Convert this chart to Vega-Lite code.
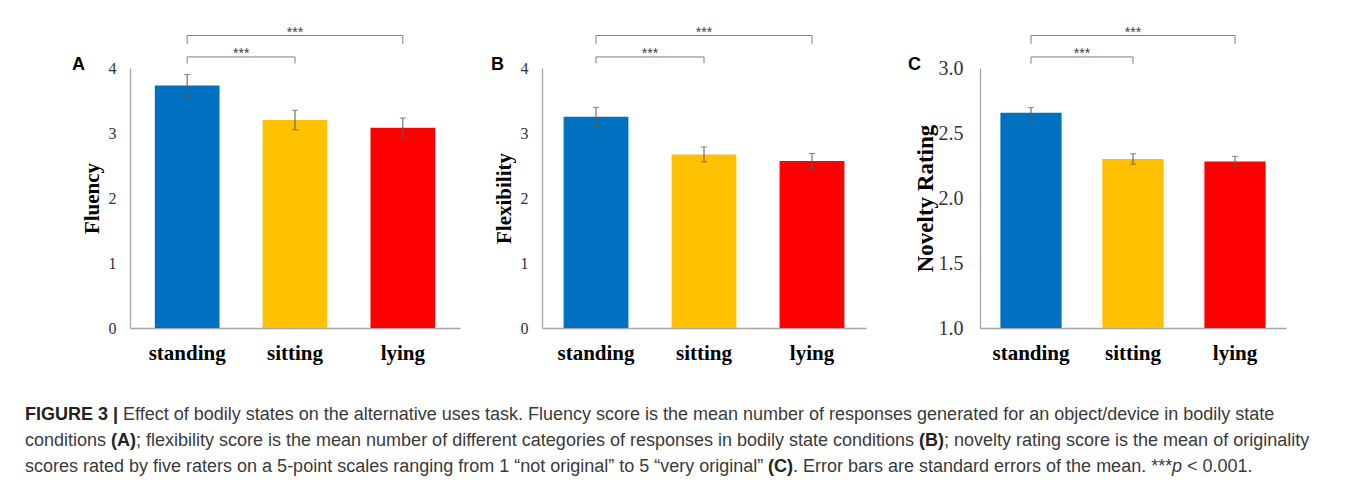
{
  "$schema": "https://vega.github.io/schema/vega-lite/v6.json",
  "background": "white",
  "padding": {"left": 25, "top": 25, "right": 5, "bottom": 0},
  "config": {"view": {"stroke": null}, "axis": {"grid": false}},
  "spacing": 43,
  "vconcat": [
    {
      "spacing": 42,
      "hconcat": [
        {
          "spacing": 31,
          "hconcat": [
            {
              "width": 330, "height": 260,
              "data": {"values": [
                {"condition": "standing", "mean": 3.73, "se": 0.17},
                {"condition": "sitting", "mean": 3.20, "se": 0.15},
                {"condition": "lying", "mean": 3.08, "se": 0.15}
              ]},
              "encoding": {
                "x": {"field": "condition", "type": "nominal", "sort": null, "title": null,
                  "scale": {"domain": ["standing", "sitting", "lying"], "paddingInner": 0.4, "paddingOuter": 0.23},
                  "axis": {"title": null, "labelAngle": 0, "ticks": false, "domainColor": "#a6a6a6", "domainWidth": 1.3, "labelFont": "Liberation Serif", "labelFontSize": 21, "labelFontWeight": "bold", "labelColor": "#000000", "labelPadding": 14}}
              },
              "layer": [
                {"mark": {"type": "bar"},
                 "encoding": {
                   "y": {"field": "mean", "type": "quantitative", "title": "Fluency", "scale": {"domain": [0, 4], "nice": false},
                     "axis": {"title": "Fluency", "values": [0, 1, 2, 3, 4], "format": "d", "ticks": false, "domainColor": "#a6a6a6", "domainWidth": 1.3, "labelFont": "Liberation Serif", "labelFontSize": 16, "labelColor": "#333333", "labelPadding": 14, "titleFont": "Liberation Serif", "titleFontSize": 21, "titleFontWeight": "bold", "titleColor": "#000000", "titlePadding": 6}},
                   "color": {"field": "condition", "type": "nominal", "scale": {"domain": ["standing", "sitting", "lying"], "range": ["#0070C0", "#FFC000", "#FF0000"]}, "legend": null}
                 }},
                {"mark": {"type": "errorbar", "ticks": {"size": 6}, "color": "#595959", "thickness": 1},
                 "encoding": {"y": {"field": "mean", "type": "quantitative", "title": "Fluency"}, "yError": {"field": "se"}}},
                {"data": {"values": [
                  {"from": "standing", "to": "sitting", "y": 4.17, "yEnd": 4.07},
                  {"from": "standing", "to": "lying", "y": 4.5, "yEnd": 4.37}
                ]},
                 "layer": [
                   {"mark": {"type": "rule", "color": "#7f7f7f", "strokeWidth": 1},
                    "encoding": {"x": {"field": "from", "type": "nominal", "title": null, "scale": {"domain": ["standing", "sitting", "lying"]}}, "x2": {"field": "to"}, "y": {"field": "y", "type": "quantitative", "title": "Fluency"}}},
                   {"mark": {"type": "rule", "color": "#7f7f7f", "strokeWidth": 1},
                    "encoding": {"x": {"field": "from", "type": "nominal", "title": null, "scale": {"domain": ["standing", "sitting", "lying"]}}, "y": {"field": "y", "type": "quantitative", "title": "Fluency"}, "y2": {"field": "yEnd"}}},
                   {"mark": {"type": "rule", "color": "#7f7f7f", "strokeWidth": 1},
                    "encoding": {"x": {"field": "to", "type": "nominal", "title": null, "scale": {"domain": ["standing", "sitting", "lying"]}}, "y": {"field": "y", "type": "quantitative", "title": "Fluency"}, "y2": {"field": "yEnd"}}}
                 ]},
                {"data": {"values": [{"label": "***"}]},
                 "mark": {"type": "text", "fontSize": 14, "color": "#404040", "baseline": "alphabetic", "dy": 1},
                 "encoding": {"x": {"datum": "sitting", "title": null}, "y": {"datum": 4.5, "title": "Fluency"}, "text": {"field": "label"}}},
                {"data": {"values": [{"label": "***"}]},
                 "mark": {"type": "text", "fontSize": 14, "color": "#404040", "baseline": "alphabetic", "dy": 1, "dx": 54},
                 "encoding": {"x": {"datum": "standing", "title": null}, "y": {"datum": 4.17, "title": "Fluency"}, "text": {"field": "label"}}},
                {"data": {"values": [{"panel": "A"}]},
                 "mark": {"type": "text", "align": "left", "baseline": "alphabetic", "dx": -58, "dy": 2, "fontSize": 18, "fontWeight": "bold", "font": "Liberation Sans", "color": "#000000"},
                 "encoding": {"x": {"value": 0}, "y": {"datum": 4, "title": "Fluency"}, "text": {"field": "panel"}}}
              ]
            },
            {
              "width": 324, "height": 260,
              "data": {"values": [
                {"condition": "standing", "mean": 3.25, "se": 0.145},
                {"condition": "sitting", "mean": 2.67, "se": 0.115},
                {"condition": "lying", "mean": 2.57, "se": 0.115}
              ]},
              "encoding": {
                "x": {"field": "condition", "type": "nominal", "sort": null, "title": null,
                  "scale": {"domain": ["standing", "sitting", "lying"], "paddingInner": 0.4, "paddingOuter": 0.2},
                  "axis": {"title": null, "labelAngle": 0, "ticks": false, "domainColor": "#a6a6a6", "domainWidth": 1.3, "labelFont": "Liberation Serif", "labelFontSize": 21, "labelFontWeight": "bold", "labelColor": "#000000", "labelPadding": 14}}
              },
              "layer": [
                {"mark": {"type": "bar"},
                 "encoding": {
                   "y": {"field": "mean", "type": "quantitative", "title": "Flexibility", "scale": {"domain": [0, 4], "nice": false},
                     "axis": {"title": "Flexibility", "values": [0, 1, 2, 3, 4], "format": "d", "ticks": false, "domainColor": "#a6a6a6", "domainWidth": 1.3, "labelFont": "Liberation Serif", "labelFontSize": 16, "labelColor": "#333333", "labelPadding": 14, "titleFont": "Liberation Serif", "titleFontSize": 21, "titleFontWeight": "bold", "titleColor": "#000000", "titlePadding": 6}},
                   "color": {"field": "condition", "type": "nominal", "scale": {"domain": ["standing", "sitting", "lying"], "range": ["#0070C0", "#FFC000", "#FF0000"]}, "legend": null}
                 }},
                {"mark": {"type": "errorbar", "ticks": {"size": 6}, "color": "#595959", "thickness": 1},
                 "encoding": {"y": {"field": "mean", "type": "quantitative", "title": "Flexibility"}, "yError": {"field": "se"}}},
                {"data": {"values": [
                  {"from": "standing", "to": "sitting", "y": 4.17, "yEnd": 4.07},
                  {"from": "standing", "to": "lying", "y": 4.5, "yEnd": 4.37}
                ]},
                 "layer": [
                   {"mark": {"type": "rule", "color": "#7f7f7f", "strokeWidth": 1},
                    "encoding": {"x": {"field": "from", "type": "nominal", "title": null, "scale": {"domain": ["standing", "sitting", "lying"]}}, "x2": {"field": "to"}, "y": {"field": "y", "type": "quantitative", "title": "Flexibility"}}},
                   {"mark": {"type": "rule", "color": "#7f7f7f", "strokeWidth": 1},
                    "encoding": {"x": {"field": "from", "type": "nominal", "title": null, "scale": {"domain": ["standing", "sitting", "lying"]}}, "y": {"field": "y", "type": "quantitative", "title": "Flexibility"}, "y2": {"field": "yEnd"}}},
                   {"mark": {"type": "rule", "color": "#7f7f7f", "strokeWidth": 1},
                    "encoding": {"x": {"field": "to", "type": "nominal", "title": null, "scale": {"domain": ["standing", "sitting", "lying"]}}, "y": {"field": "y", "type": "quantitative", "title": "Flexibility"}, "y2": {"field": "yEnd"}}}
                 ]},
                {"data": {"values": [{"label": "***"}]},
                 "mark": {"type": "text", "fontSize": 14, "color": "#404040", "baseline": "alphabetic", "dy": 1},
                 "encoding": {"x": {"datum": "sitting", "title": null}, "y": {"datum": 4.5, "title": "Flexibility"}, "text": {"field": "label"}}},
                {"data": {"values": [{"label": "***"}]},
                 "mark": {"type": "text", "fontSize": 14, "color": "#404040", "baseline": "alphabetic", "dy": 1, "dx": 54},
                 "encoding": {"x": {"datum": "standing", "title": null}, "y": {"datum": 4.17, "title": "Flexibility"}, "text": {"field": "label"}}},
                {"data": {"values": [{"panel": "B"}]},
                 "mark": {"type": "text", "align": "left", "baseline": "alphabetic", "dx": -51, "dy": 2, "fontSize": 18, "fontWeight": "bold", "font": "Liberation Sans", "color": "#000000"},
                 "encoding": {"x": {"value": 0}, "y": {"datum": 4, "title": "Flexibility"}, "text": {"field": "panel"}}}
              ]
            }
          ]
        },
        {
          "width": 306, "height": 260,
          "data": {"values": [
            {"condition": "standing", "mean": 2.655, "se": 0.04},
            {"condition": "sitting", "mean": 2.30, "se": 0.04},
            {"condition": "lying", "mean": 2.28, "se": 0.04}
          ]},
          "encoding": {
            "x": {"field": "condition", "type": "nominal", "sort": null, "title": null,
              "scale": {"domain": ["standing", "sitting", "lying"], "paddingInner": 0.4, "paddingOuter": 0.2},
              "axis": {"title": null, "labelAngle": 0, "ticks": false, "domainColor": "#a6a6a6", "domainWidth": 1.3, "labelFont": "Liberation Serif", "labelFontSize": 21, "labelFontWeight": "bold", "labelColor": "#000000", "labelPadding": 14}}
          },
          "layer": [
            {"mark": {"type": "bar"},
             "encoding": {
               "y": {"field": "mean", "type": "quantitative", "title": "Novelty Rating", "scale": {"domain": [1, 3], "nice": false, "zero": false},
                 "axis": {"title": "Novelty Rating", "values": [1, 1.5, 2, 2.5, 3], "format": ".1f", "ticks": false, "domainColor": "#a6a6a6", "domainWidth": 1.3, "labelFont": "Liberation Serif", "labelFontSize": 20, "labelColor": "#333333", "labelPadding": 17, "titleFont": "Liberation Serif", "titleFontSize": 23, "titleFontWeight": "bold", "titleColor": "#000000", "titlePadding": 1}},
               "y2": {"datum": 1},
               "color": {"field": "condition", "type": "nominal", "scale": {"domain": ["standing", "sitting", "lying"], "range": ["#0070C0", "#FFC000", "#FF0000"]}, "legend": null}
             }},
            {"mark": {"type": "errorbar", "ticks": {"size": 6}, "color": "#595959", "thickness": 1},
             "encoding": {"y": {"field": "mean", "type": "quantitative", "title": "Novelty Rating"}, "yError": {"field": "se"}}},
            {"data": {"values": [
              {"from": "standing", "to": "sitting", "y": 3.085, "yEnd": 3.033},
              {"from": "standing", "to": "lying", "y": 3.25, "yEnd": 3.185}
            ]},
             "layer": [
               {"mark": {"type": "rule", "color": "#7f7f7f", "strokeWidth": 1},
                "encoding": {"x": {"field": "from", "type": "nominal", "title": null, "scale": {"domain": ["standing", "sitting", "lying"]}}, "x2": {"field": "to"}, "y": {"field": "y", "type": "quantitative", "title": "Novelty Rating"}}},
               {"mark": {"type": "rule", "color": "#7f7f7f", "strokeWidth": 1},
                "encoding": {"x": {"field": "from", "type": "nominal", "title": null, "scale": {"domain": ["standing", "sitting", "lying"]}}, "y": {"field": "y", "type": "quantitative", "title": "Novelty Rating"}, "y2": {"field": "yEnd"}}},
               {"mark": {"type": "rule", "color": "#7f7f7f", "strokeWidth": 1},
                "encoding": {"x": {"field": "to", "type": "nominal", "title": null, "scale": {"domain": ["standing", "sitting", "lying"]}}, "y": {"field": "y", "type": "quantitative", "title": "Novelty Rating"}, "y2": {"field": "yEnd"}}}
             ]},
            {"data": {"values": [{"label": "***"}]},
             "mark": {"type": "text", "fontSize": 14, "color": "#404040", "baseline": "alphabetic", "dy": 1},
             "encoding": {"x": {"datum": "sitting", "title": null}, "y": {"datum": 3.25, "title": "Novelty Rating"}, "text": {"field": "label"}}},
            {"data": {"values": [{"label": "***"}]},
             "mark": {"type": "text", "fontSize": 14, "color": "#404040", "baseline": "alphabetic", "dy": 1, "dx": 51},
             "encoding": {"x": {"datum": "standing", "title": null}, "y": {"datum": 3.085, "title": "Novelty Rating"}, "text": {"field": "label"}}},
            {"data": {"values": [{"panel": "C"}]},
             "mark": {"type": "text", "align": "left", "baseline": "alphabetic", "dx": -72, "dy": 2, "fontSize": 18, "fontWeight": "bold", "font": "Liberation Sans", "color": "#000000"},
             "encoding": {"x": {"value": 0}, "y": {"datum": 3, "title": "Novelty Rating"}, "text": {"field": "panel"}}}
          ]
        }
      ]
    },
    {
      "width": 1200, "height": 78,
      "encoding": {
        "x": {"value": 0},
        "y": {"field": "line", "type": "ordinal", "scale": {"type": "point", "domain": [1, 2, 3], "padding": 0.5}, "axis": null},
        "text": {"field": "t"}
      },
      "layer": [
        {"data": {"values": [{"line": 1, "t": "FIGURE 3 |"}]},
         "mark": {"type": "text", "align": "left", "baseline": "alphabetic", "font": "Liberation Sans", "fontSize": 18, "fontWeight": "bold", "color": "#222222", "dx": -105}},
        {"data": {"values": [
          {"line": 2, "t": "conditions"},
          {"line": 3, "t": "scores rated by five raters on a 5-point scales ranging from 1 “not original” to 5 “very original”"}
        ]},
         "mark": {"type": "text", "align": "left", "baseline": "alphabetic", "font": "Liberation Sans", "fontSize": 18, "color": "#3a3a3a", "dx": -105}},
        {"data": {"values": [{"line": 1, "t": "Effect of bodily states on the alternative uses task. Fluency score is the mean number of responses generated for an object/device in bodily state"}]},
         "mark": {"type": "text", "align": "left", "baseline": "alphabetic", "font": "Liberation Sans", "fontSize": 18, "color": "#3a3a3a", "dx": -7}},
        {"data": {"values": [{"line": 2, "t": "(A)"}]},
         "mark": {"type": "text", "align": "left", "baseline": "alphabetic", "font": "Liberation Sans", "fontSize": 18, "fontWeight": "bold", "color": "#222222", "dx": -19}},
        {"data": {"values": [{"line": 2, "t": "; flexibility score is the mean number of different categories of responses in bodily state conditions"}]},
         "mark": {"type": "text", "align": "left", "baseline": "alphabetic", "font": "Liberation Sans", "fontSize": 18, "color": "#3a3a3a", "dx": 6}},
        {"data": {"values": [{"line": 2, "t": "(B)"}]},
         "mark": {"type": "text", "align": "left", "baseline": "alphabetic", "font": "Liberation Sans", "fontSize": 18, "fontWeight": "bold", "color": "#222222", "dx": 789}},
        {"data": {"values": [{"line": 2, "t": "; novelty rating score is the mean of originality"}]},
         "mark": {"type": "text", "align": "left", "baseline": "alphabetic", "font": "Liberation Sans", "fontSize": 18, "color": "#3a3a3a", "dx": 814}},
        {"data": {"values": [{"line": 3, "t": "(C)"}]},
         "mark": {"type": "text", "align": "left", "baseline": "alphabetic", "font": "Liberation Sans", "fontSize": 18, "fontWeight": "bold", "color": "#222222", "dx": 638}},
        {"data": {"values": [{"line": 3, "t": ". Error bars are standard errors of the mean. ***"}]},
         "mark": {"type": "text", "align": "left", "baseline": "alphabetic", "font": "Liberation Sans", "fontSize": 18, "color": "#3a3a3a", "dx": 663}},
        {"data": {"values": [{"line": 3, "t": "p"}]},
         "mark": {"type": "text", "align": "left", "baseline": "alphabetic", "font": "Liberation Sans", "fontSize": 18, "fontStyle": "italic", "color": "#3a3a3a", "dx": 1042}},
        {"data": {"values": [{"line": 3, "t": "< 0.001."}]},
         "mark": {"type": "text", "align": "left", "baseline": "alphabetic", "font": "Liberation Sans", "fontSize": 18, "color": "#3a3a3a", "dx": 1057}}
      ]
    }
  ]
}
